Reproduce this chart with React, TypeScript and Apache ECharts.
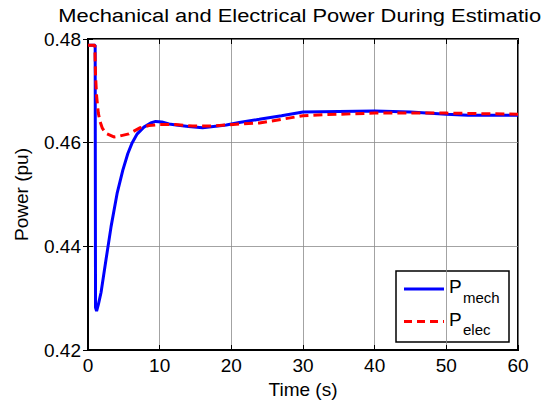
import React, { useEffect, useRef } from "react";
import * as echarts from "echarts";

const titleText = "Mechanical and Electrical Power During Estimation";
const xTicks = [0, 10, 20, 30, 40, 50, 60];
const yTicks = [0.42, 0.44, 0.46, 0.48];

const mechTime = [0, 1.0, 1.05, 1.2, 1.45, 1.82, 2.52, 3.22, 4.06, 4.86, 5.56, 6.17, 6.87, 7.8, 8.74, 9.44, 10.3, 11.3, 12.3, 14, 16, 19.3, 21.1, 23.9, 27, 30, 35, 40, 45, 50, 53, 60];
const mechPower = [0.4788, 0.4788, 0.4282, 0.4275, 0.4288, 0.4311, 0.4375, 0.4438, 0.4502, 0.4547, 0.4579, 0.46, 0.4617, 0.463, 0.4638, 0.4641, 0.464, 0.4636, 0.4634, 0.4631, 0.4629, 0.4634, 0.4639, 0.4645, 0.4652, 0.4659, 0.466, 0.4661, 0.4659, 0.4655, 0.4653, 0.4653];

const elecTime = [0, 0.95, 1.05, 1.2, 1.44, 1.7, 2.0, 2.5, 3.6, 4.5, 5.7, 7.3, 8.5, 9.9, 12.2, 14.6, 17, 19.3, 21.1, 23.9, 27, 30, 33, 40, 50, 60];
const elecPower = [0.4788, 0.4788, 0.473, 0.469, 0.4657, 0.464, 0.4628, 0.4618, 0.4611, 0.4613, 0.4617, 0.4629, 0.4633, 0.4635, 0.4635, 0.4632, 0.4632, 0.4634, 0.4636, 0.4638, 0.4645, 0.4652, 0.4654, 0.4657, 0.4657, 0.4655];

const legendMain = ["P", "P"];
const legendSub = ["mech", "elec"];

const FONT = "'Liberation Sans', Arial, Helvetica, sans-serif";

export default function App() {
  const ref = useRef<HTMLDivElement>(null);
  useEffect(() => {
    if (!ref.current) return;
    const chart = echarts.init(ref.current, undefined, { renderer: "svg" });
    const L = 88, R = 518, T = 39, B = 350;
    const gridLine = { show: true, lineStyle: { color: "#8c8c8c", width: 0.8 } };
    chart.setOption({
      animation: false,
      backgroundColor: "#ffffff",
      textStyle: { fontFamily: FONT },
      grid: {
        left: L,
        right: 541 - R,
        top: T,
        bottom: 405 - B,
        show: true,
        borderColor: "#000",
        borderWidth: 2,
        backgroundColor: "#fff",
      },
      xAxis: [
        {
          type: "value",
          min: xTicks[0],
          max: xTicks[xTicks.length - 1],
          interval: 10,
          name: "Time (s)",
          nameLocation: "middle",
          nameGap: 28,
          nameTextStyle: { fontSize: 19, color: "#000", fontFamily: FONT },
          axisLine: { show: true, lineStyle: { color: "#000", width: 2 } },
          axisTick: { show: true, inside: true, length: 5, lineStyle: { color: "#000" } },
          axisLabel: { fontSize: 19, color: "#000", margin: 6, fontFamily: FONT },
          splitLine: gridLine,
        },
        {
          type: "value",
          position: "top",
          min: xTicks[0],
          max: xTicks[xTicks.length - 1],
          interval: 10,
          axisLine: { show: false },
          axisTick: { show: true, inside: true, length: 5, lineStyle: { color: "#000" } },
          axisLabel: { show: false },
          splitLine: { show: false },
        },
      ],
      yAxis: [
        {
          type: "value",
          min: yTicks[0],
          max: yTicks[yTicks.length - 1],
          interval: 0.02,
          name: "Power (pu)",
          nameLocation: "middle",
          nameRotate: 90,
          nameGap: 57,
          nameTextStyle: { fontSize: 19, color: "#000", fontFamily: FONT },
          axisLine: { show: true, lineStyle: { color: "#000", width: 2 } },
          axisTick: { show: true, inside: true, length: 5, lineStyle: { color: "#000" } },
          axisLabel: { fontSize: 19, color: "#000", margin: 7, fontFamily: FONT, formatter: (v: number) => v.toFixed(2) },
          splitLine: gridLine,
        },
        {
          type: "value",
          position: "right",
          min: yTicks[0],
          max: yTicks[yTicks.length - 1],
          interval: 0.02,
          axisLine: { show: false },
          axisTick: { show: true, inside: true, length: 5, lineStyle: { color: "#000" } },
          axisLabel: { show: false },
          splitLine: { show: false },
        },
      ],
      series: [
        {
          name: "Pmech",
          type: "line",
          showSymbol: false,
          smooth: false,
          data: mechTime.map((t, i) => [t, mechPower[i]]),
          lineStyle: { color: "#0000ff", width: 3 },
          itemStyle: { color: "#0000ff" },
          z: 3,
        },
        {
          name: "Pelec",
          type: "line",
          showSymbol: false,
          smooth: false,
          data: elecTime.map((t, i) => [t, elecPower[i]]),
          lineStyle: { color: "#ff0000", width: 3, type: [9, 5] },
          itemStyle: { color: "#ff0000" },
          z: 4,
        },
      ],
      graphic: [
        {
          type: "text",
          x: 305.8,
          y: 15,
          scaleX: 1.152,
          style: { text: titleText, fontSize: 19, fontFamily: FONT, fill: "#000", align: "center", verticalAlign: "middle" },
        },
        {
          type: "group",
          z: 100,
          children: [
            { type: "rect", shape: { x: 396, y: 271, width: 113, height: 71 }, style: { fill: "#fff", stroke: "#000", lineWidth: 1.5 } },
            { type: "line", shape: { x1: 404, y1: 289, x2: 444, y2: 289 }, style: { stroke: "#0000ff", lineWidth: 3 } },
            { type: "line", shape: { x1: 404, y1: 321.5, x2: 444, y2: 321.5 }, style: { stroke: "#ff0000", lineWidth: 3, lineDash: [8, 5] } },
            { type: "text", x: 449, y: 286, style: { text: legendMain[0], fontSize: 19, fontFamily: FONT, fill: "#000", verticalAlign: "middle" } },
            { type: "text", x: 463, y: 297.5, style: { text: legendSub[0], fontSize: 15, fontFamily: FONT, fill: "#000", verticalAlign: "middle" } },
            { type: "text", x: 449, y: 319.5, style: { text: legendMain[1], fontSize: 19, fontFamily: FONT, fill: "#000", verticalAlign: "middle" } },
            { type: "text", x: 463, y: 329, style: { text: legendSub[1], fontSize: 15, fontFamily: FONT, fill: "#000", verticalAlign: "middle" } },
          ],
        },
      ],
    });
    return () => chart.dispose();
  }, []);
  return (
    <div
      ref={ref}
      style={{ position: "fixed", left: 0, top: 0, width: 541, height: 405, background: "#fff" }}
    />
  );
}
